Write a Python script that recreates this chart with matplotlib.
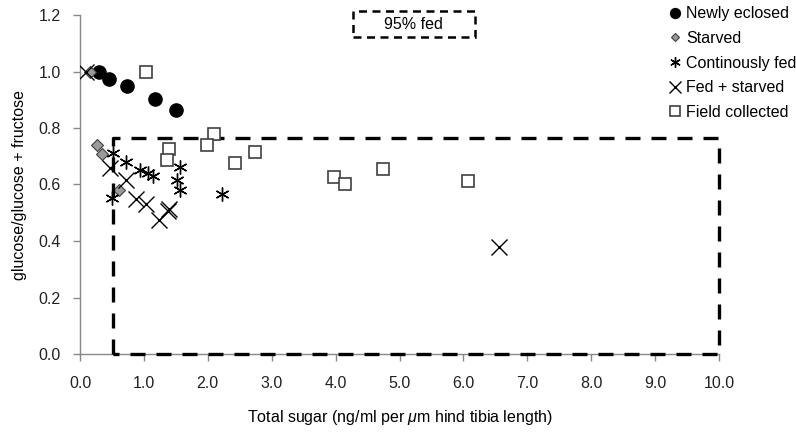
import numpy as np
import matplotlib
matplotlib.use('Agg')
import matplotlib.pyplot as plt
from matplotlib.patches import Rectangle

plt.rcParams['font.family'] = ['Liberation Sans', 'DejaVu Sans']
plt.rcParams['mathtext.fontset'] = 'custom'
plt.rcParams['mathtext.rm'] = 'Liberation Sans'
plt.rcParams['mathtext.it'] = 'Liberation Sans:italic'

# sugar content vs glucose ratio, per treatment group
newly_x = [0.29, 0.46, 0.73, 1.17, 1.51]
newly_y = [0.998, 0.974, 0.947, 0.903, 0.865]

starved_x = [0.16, 0.27, 0.35, 0.61]
starved_y = [1.0, 0.741, 0.709, 0.581]

fed_x = [0.51, 0.72, 0.94, 1.07, 1.14, 1.56, 1.52, 1.56, 0.50, 2.23]
fed_y = [0.712, 0.681, 0.653, 0.641, 0.629, 0.661, 0.615, 0.579, 0.553, 0.565]

fedstarved_x = [0.09, 0.47, 0.72, 0.88, 1.04, 1.23, 1.37, 1.40, 6.56]
fedstarved_y = [1.0, 0.659, 0.615, 0.550, 0.530, 0.476, 0.506, 0.512, 0.380]

field_x = [1.03, 2.09, 1.98, 2.74, 2.42, 1.40, 1.36, 3.98, 4.15, 4.74, 6.07]
field_y = [0.998, 0.780, 0.741, 0.715, 0.677, 0.727, 0.688, 0.627, 0.601, 0.655, 0.614]

# "95% fed" region
fed_box_x = [0.51, 10.0]
fed_box_y = [0.0, 0.763]

fs = 11.5

fig = plt.figure(figsize=(7.96, 4.36), dpi=100)
ax = fig.add_axes([80/796, 82/436, 639/796, 339/436])

ax.plot(newly_x, newly_y, 'o', ms=9.5, color='black', mec='black', label='Newly eclosed', zorder=3)
ax.plot(starved_x, starved_y, 'D', ms=6, color='#9a9a9a', mec='#404040', mew=0.8, label='Starved', zorder=3)
ax.plot(fed_x, fed_y, ls='none', marker=(6, 2, 0), ms=10, color='black', mew=1.0, label='Continously fed', zorder=3)
ax.plot(fedstarved_x, fedstarved_y, 'x', ms=11, color='black', mew=1.0, label='Fed + starved', zorder=3)
ax.plot(field_x, field_y, 's', ms=9, mfc='white', mec='#404040', mew=1.2, label='Field collected', zorder=4)

bx = [fed_box_x[0], fed_box_x[0], fed_box_x[1], fed_box_x[1], fed_box_x[0]]
by = [fed_box_y[0], fed_box_y[1], fed_box_y[1], fed_box_y[0], fed_box_y[0]]
ax.plot(bx, by, color='black', lw=2.4, ls=(0, (4.5, 3.3)), clip_on=False, zorder=3.5)

ax.add_patch(Rectangle((4.27, 1.122), 1.91, 0.091, fill=False, ec='black', lw=1.8,
                       ls=(0, (3.2, 2.2)), clip_on=False))
ax.text(5.225, 1.167, '95% fed', ha='center', va='center', fontsize=fs)

ax.set_xlim(0, 10)
ax.set_ylim(0, 1.2)
ax.set_xticks(np.arange(0, 10.5, 1.0))
ax.set_xticklabels(['%.1f' % v for v in np.arange(0, 10.5, 1.0)])
ax.set_yticks(np.arange(0, 1.25, 0.2))
ax.set_yticklabels(['%.1f' % v for v in np.arange(0, 1.25, 0.2)])

for side in ['top', 'right']:
    ax.spines[side].set_visible(False)
for side in ['left', 'bottom']:
    ax.spines[side].set_color('#888888')
    ax.spines[side].set_linewidth(1.0)
ax.tick_params(axis='both', colors='#888888', labelcolor='#222222', labelsize=fs,
               length=5, width=1.0, direction='out')
ax.tick_params(axis='x', pad=11)
ax.tick_params(axis='y', pad=9)

ax.set_xlabel(r'Total sugar (ng/ml per $\mu$m hind tibia length)', fontsize=fs, labelpad=12)
ax.set_ylabel('glucose/glucose + fructose', fontsize=fs, labelpad=8)

fig.legend(loc='upper left', bbox_to_anchor=(662/796, 1.0), frameon=False,
           fontsize=fs, handlelength=0.8, handletextpad=0.3, labelspacing=0.6,
           borderaxespad=0, markerscale=0.75)

fig.savefig('out.png', dpi=100)
